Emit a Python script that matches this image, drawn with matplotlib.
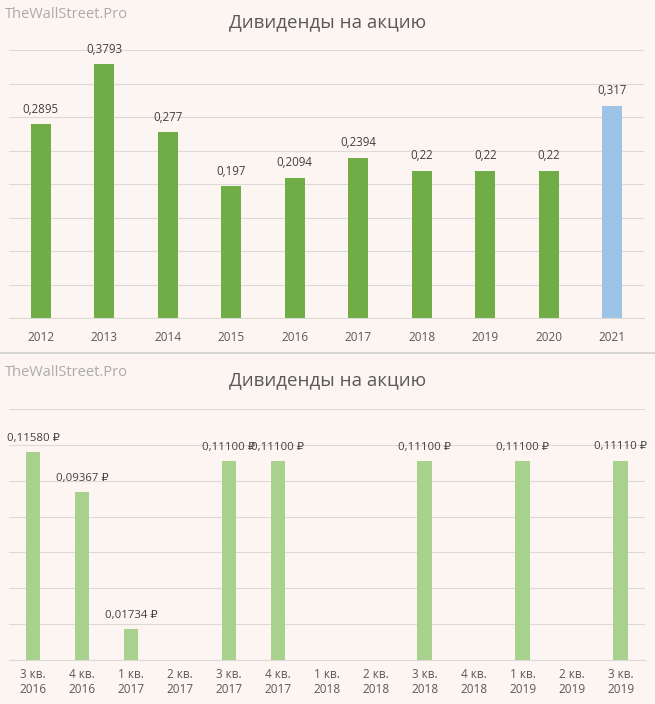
import matplotlib.pyplot as plt
from matplotlib.lines import Line2D

# Дані: річні дивіденди на акцію
years = ['2012', '2013', '2014', '2015', '2016', '2017', '2018', '2019', '2020', '2021']
year_values = [0.2895, 0.3793, 0.277, 0.197, 0.2094, 0.2394, 0.22, 0.22, 0.22, 0.317]

# Дані: квартальні дивіденди
quarters = ['3 кв.\n2016', '4 кв.\n2016', '1 кв.\n2017', '2 кв.\n2017', '3 кв.\n2017',
            '4 кв.\n2017', '1 кв.\n2018', '2 кв.\n2018', '3 кв.\n2018', '4 кв.\n2018',
            '1 кв.\n2019', '2 кв.\n2019', '3 кв.\n2019']
quarter_values = [0.1158, 0.09367, 0.01734, 0, 0.111, 0.111, 0, 0, 0.111, 0, 0.111, 0, 0.1111]

bg = '#FCF5F2'
grid_color = '#DCD9D7'
plt.rcParams['font.family'] = ['Open Sans', 'DejaVu Sans']

fig = plt.figure(figsize=(6.55, 7.04), dpi=100, facecolor=bg)

ax1 = fig.add_axes([0.0137, 0.548, 0.9695, 0.381])
ax2 = fig.add_axes([0.013, 0.0625, 0.972, 0.3565])


def style_axes(ax, ymax, step):
    ax.set_facecolor(bg)
    ax.set_ylim(0, ymax)
    ax.set_yticks([i * step for i in range(int(round(ymax / step)) + 1)])
    ax.yaxis.grid(True, color=grid_color, linewidth=0.8)
    ax.set_axisbelow(True)
    ax.tick_params(axis='y', left=False, labelleft=False)
    ax.tick_params(axis='x', length=0, colors='#595959', labelsize=8.5)
    for side in ['top', 'left', 'right']:
        ax.spines[side].set_visible(False)
    ax.spines['bottom'].set_color(grid_color)


# Верхній графік
colors1 = ['#70AD47'] * (len(years) - 1) + ['#9DC3E6']
ax1.bar(years, year_values, width=0.32, color=colors1)
style_axes(ax1, 0.4, 0.05)
ax1.set_xlim(-0.5, len(years) - 0.5)
ax1.tick_params(axis='x', pad=9)
for i, v in enumerate(year_values):
    ax1.annotate(str(v).replace('.', ','), (i, v), xytext=(0, 6), textcoords='offset points',
                 ha='center', va='bottom', fontsize=8.3, color='#404040')

# Нижній графік
ax2.bar(quarters, quarter_values, width=0.3, color='#A9D18E')
style_axes(ax2, 0.14, 0.02)
ax2.set_xlim(-0.5, len(quarters) - 0.5)
ax2.tick_params(axis='x', pad=6)
for i, v in enumerate(quarter_values):
    if v > 0:
        ax2.annotate(f'{v:.5f}'.replace('.', ',') + ' ₽', (i, v), xytext=(0, 6),
                     textcoords='offset points', ha='center', va='bottom',
                     fontsize=8.2, color='#404040')

# Заголовки та водяні знаки
for y_title, y_mark in [(0.968, 0.979), (0.460, 0.471)]:
    fig.text(0.5, y_title, 'Дивиденды на акцию', ha='center', va='center',
             fontsize=13.5, color='#595959')
    fig.text(0.008, y_mark, 'TheWallStreet.Pro', ha='left', va='center',
             fontsize=10.5, color='#ABABAB')

# Лінія-розділювач між графіками
fig.add_artist(Line2D([0, 1], [1 - 353 / 704, 1 - 353 / 704], color='#D0D0D0', linewidth=1.2))

fig.savefig('out.png', dpi=100, facecolor=bg)
